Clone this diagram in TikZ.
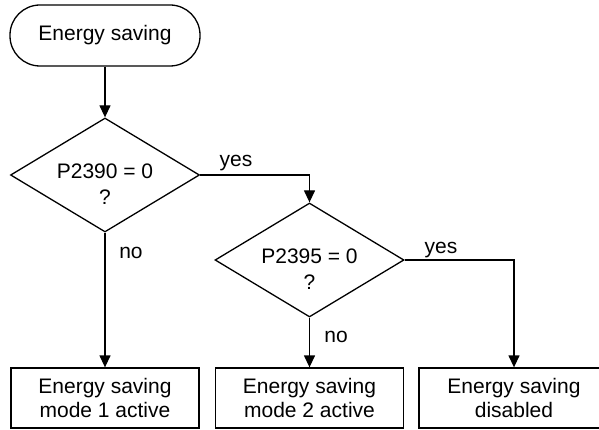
\documentclass[tikz,border=0pt]{standalone}
\usepackage{fontspec}
\setmainfont{Liberation Sans}
\usetikzlibrary{shapes.geometric,arrows.meta}
\begin{document}
\begin{tikzpicture}[x=1pt,y=-1pt, line width=1.3pt,
 every node/.style={font=\fontsize{21}{24}\selectfont},
 term/.style={draw, rectangle, rounded corners=30pt, minimum width=190pt, minimum height=61pt, inner sep=0pt},
 dec/.style={draw, diamond, minimum width=189pt, minimum height=114pt, inner sep=0pt, aspect=1.66},
 box/.style={draw, rectangle, minimum width=188pt, minimum height=60pt, inner sep=0pt, align=center},
 txt/.style={align=center, inner sep=0pt, font=\fontsize{21}{26}\selectfont},
 lbl/.style={inner sep=0pt},
 arr/.style={-{Triangle[length=12pt,width=11pt]}}
]
\useasboundingbox (0,0) rectangle (599,430);
\node[term] (start) at (105,35.5) {Energy saving};
\node[dec] (d1) at (105,175) {};
\node[txt] (t1) at (105,184) {P2390 = 0\\?};
\node[dec] (d2) at (309.5,260) {};
\node[txt] (t2) at (309.5,269) {P2395 = 0\\?};
\node[box] (b1) at (105,398) {Energy saving\\mode 1 active};
\node[box] (b2) at (309.5,398) {Energy saving\\mode 2 active};
\node[box, minimum width=190pt] (b3) at (514,398) {Energy saving\\disabled};
\draw[arr] (start.south) -- (d1.north);
\draw[arr] (d1.east) -| (d2.north);
\draw[arr] (d1.south) -- (b1.north);
\draw[arr] (d2.south) -- (b2.north);
\draw[arr] (d2.east) -| (b3.north);
\node[lbl] (y1) at (236,163) {yes};
\node[lbl] (n1) at (131,253) {no};
\node[lbl] (n2) at (336,337) {no};
\node[lbl] (y2) at (441,250) {yes};
\end{tikzpicture}
\end{document}
